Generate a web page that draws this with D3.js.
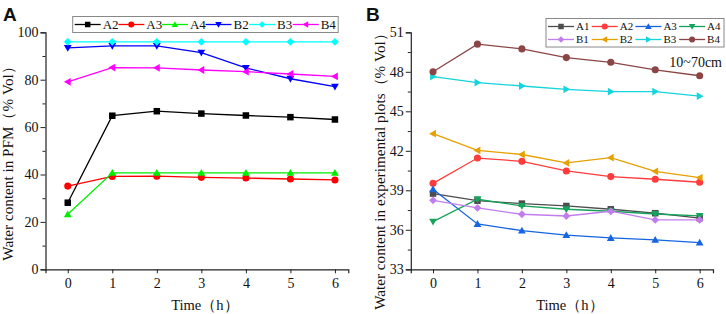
<!DOCTYPE html>
<html><head><meta charset="utf-8">
<script src="https://cdn.jsdelivr.net/npm/d3@7"></script>
<style>body{margin:0;background:#fff}svg{display:block}text{font-family:"Liberation Serif","Times New Roman",serif}</style>
</head><body>
<svg id="c" width="726" height="314"></svg>
<script>
const times = [0,1,2,3,4,5,6];
// Panel A: water content in PFM
const seriesA = ["A2","A3","A4","B2","B3","B4"];
const A_A2 = [28.1,64.8,66.7,65.7,64.9,64.2,63.2];
const A_A3 = [35.1,39.2,39.3,38.8,38.5,38.1,37.7];
const A_A4 = [23.2,40.7,40.7,40.7,40.7,40.7,40.7];
const A_B2 = [93.4,94.3,94.3,91.4,85.0,80.4,77.1];
const A_B3 = [96.0,96.0,96.0,96.0,96.0,96.0,96.0];
const A_B4 = [79.1,85.1,85.0,84.1,83.4,82.4,81.4];
const ticksA = [0,20,40,60,80,100];
// Panel B: water content in experimental plots
const seriesB = ["A1","A2","A3","A4","B1","B2","B3","B4"];
const B_A1 = [38.75,38.21,37.99,37.81,37.56,37.26,36.88];
const B_A2 = [39.53,41.45,41.20,40.47,40.04,39.84,39.61];
const B_A3 = [39.08,36.44,35.94,35.59,35.38,35.23,35.03];
const B_A4 = [36.62,38.32,37.81,37.56,37.41,37.20,37.05];
const B_B1 = [38.24,37.66,37.18,37.05,37.41,36.75,36.75];
const B_B2 = [43.30,42.03,41.72,41.08,41.48,40.44,39.96];
const B_B3 = [47.64,47.18,46.92,46.67,46.49,46.50,46.15];
const B_B4 = [48.00,50.10,49.74,49.08,48.72,48.15,47.70];
const ticksB = [33,36,39,42,45,48,51];

const svg = d3.select("#c");

function drawMarker(g, type, x, y, color, s) {
  if (type === "square") {
    g.append("rect").attr("x", x - s/2).attr("y", y - s/2).attr("width", s).attr("height", s).attr("fill", color);
  } else if (type === "circle") {
    g.append("circle").attr("cx", x).attr("cy", y).attr("r", s/2 + 0.3).attr("fill", color);
  } else {
    const h = s * 0.6;
    let pts;
    if (type === "triUp") pts = [[x, y - h], [x - h, y + h*0.75], [x + h, y + h*0.75]];
    if (type === "triDown") pts = [[x, y + h], [x - h, y - h*0.75], [x + h, y - h*0.75]];
    if (type === "triLeft") pts = [[x - h, y], [x + h*0.75, y - h], [x + h*0.75, y + h]];
    if (type === "triRight") pts = [[x + h, y], [x - h*0.75, y - h], [x - h*0.75, y + h]];
    if (type === "diamond") pts = [[x, y - h], [x + h, y], [x, y + h], [x - h, y]];
    g.append("polygon").attr("points", pts.map(p => p.join(",")).join(" ")).attr("fill", color);
  }
}

function panel(cfg) {
  const x = d3.scaleLinear().domain([-0.5, 6.3]).range([cfg.x0, cfg.x1]);
  const y = d3.scaleLinear().domain(cfg.ydom).range([269.3, 32.3]);
  const g = svg.append("g");
  const ya = d3.axisLeft(y).tickValues(cfg.yticks).tickSize(5).tickPadding(2).tickFormat(d3.format("d"));
  const yg = g.append("g").attr("transform", `translate(${cfg.x0},0)`).call(ya);
  const yminor = d3.axisLeft(y).tickValues(cfg.yminor).tickSize(3).tickFormat("");
  g.append("g").attr("transform", `translate(${cfg.x0},0)`).call(yminor).select(".domain").remove();
  const xa = d3.axisBottom(x).tickValues(times).tickSize(4).tickPadding(5).tickFormat(d3.format("d"));
  const xg = g.append("g").attr("transform", `translate(0,269.3)`).call(xa);
  [yg, xg].forEach(a => {
    a.selectAll("text").attr("font-size", 14).attr("fill", "#111").style("font-family", "Liberation Serif");
    a.select(".domain").attr("stroke", "#222").attr("stroke-width", 1.2);
  });
  g.selectAll(".tick line").attr("stroke", "#222");
  g.append("text").attr("x", (cfg.x0 + cfg.x1) / 2 + 8).attr("y", 310).attr("text-anchor", "middle")
    .attr("font-size", 14.5).attr("fill", "#111").text("Time（h）");
  g.append("text").attr("transform", `translate(${cfg.ytx},${cfg.yty}) rotate(-90)`).attr("text-anchor", "middle")
    .attr("font-size", 15.2).attr("fill", "#111").text(cfg.ytitle);
  g.append("text").attr("x", cfg.lx).attr("y", 21).attr("font-size", 19).attr("font-weight", "bold")
    .style("font-family", "Liberation Sans, Arial, sans-serif").attr("fill", "#111").text(cfg.label);
  const line = d3.line().x((d, i) => x(times[i])).y(d => y(d));
  cfg.series.forEach(s => {
    g.append("path").datum(s.values).attr("d", line).attr("fill", "none").attr("stroke", s.color).attr("stroke-width", 1.3);
    s.values.forEach((v, i) => drawMarker(g, s.marker, x(times[i]), y(v), s.color, 6.5));
  });
  const L = cfg.legend;
  g.append("rect").attr("x", L.x).attr("y", L.y).attr("width", L.w).attr("height", L.h)
    .attr("fill", "#fff").attr("stroke", "#888").attr("stroke-width", 1);
  cfg.series.forEach((s, i) => {
    const col = i % L.cols, row = Math.floor(i / L.cols);
    const lx = L.x + 2 + col * L.dx, ly = L.y + L.rowY[row];
    g.append("line").attr("x1", lx).attr("x2", lx + 26).attr("y1", ly).attr("y2", ly).attr("stroke", s.color).attr("stroke-width", 1.3);
    drawMarker(g, s.marker, lx + 13, ly, s.color, 5.5);
    g.append("text").attr("x", lx + 28).attr("y", ly + L.fs * 0.35).attr("font-size", L.fs).attr("fill", "#111").text(s.name);
  });
}

const valsA = [A_A2, A_A3, A_A4, A_B2, A_B3, A_B4];
const colsA = ["#000000", "#ff0000", "#00ee00", "#0000ff", "#00ffff", "#ff00ff"];
const mkA = ["square", "circle", "triUp", "triDown", "diamond", "triLeft"];
panel({
  x0: 45.5, x1: 348.3, ydom: [0, 100], yticks: ticksA, yminor: [10, 30, 50, 70, 90],
  ytitle: "Water content in PFM（% Vol）", ytx: 13, yty: 160, label: "A", lx: 3,
  series: seriesA.map((n, i) => ({ name: n, values: valsA[i], color: colsA[i], marker: mkA[i] })),
  legend: { x: 72.7, y: 16.5, w: 265.5, h: 16, cols: 6, dx: 43.6, rowY: [8], fs: 13 }
});

const valsB = [B_A1, B_A2, B_A3, B_A4, B_B1, B_B2, B_B3, B_B4];
const colsB = ["#4d4d4d", "#ff3b3b", "#1565e0", "#16a35c", "#c27ded", "#e6a000", "#14d4dc", "#8b4545"];
const mkB = ["square", "circle", "triUp", "triDown", "diamond", "triLeft", "triRight", "circle"];
panel({
  x0: 410.8, x1: 713, ydom: [33, 51], yticks: ticksB, yminor: [34.5, 37.5, 40.5, 43.5, 46.5, 49.5],
  ytitle: "Water content in experimental plots（% Vol）", ytx: 385, yty: 168, label: "B", lx: 366,
  series: seriesB.map((n, i) => ({ name: n, values: valsB[i], color: colsB[i], marker: mkB[i] })),
  legend: { x: 546, y: 18.5, w: 178, h: 28.5, cols: 4, dx: 43.7, rowY: [8, 21], fs: 11 }
});

svg.append("text").attr("x", 722).attr("y", 67).attr("text-anchor", "end").attr("font-size", 14).attr("fill", "#111").text("10~70cm");
</script>
</body></html>
